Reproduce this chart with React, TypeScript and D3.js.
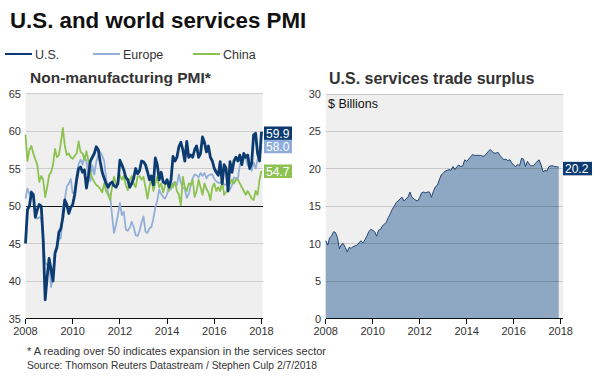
import React from "react";
import * as d3 from "d3";

// ---------- DATA ----------
const startYear = 2008;
const xTickYears = [2008, 2010, 2012, 2014, 2016, 2018];
const pmiTicks = [35, 40, 45, 50, 55, 60, 65];
const surplusTicks = [0, 5, 10, 15, 20, 25, 30];

// Monthly, Jan 2008 .. Jan 2018
const usPMI = [
  45.0, 49.5, 50.0, 51.8, 51.5, 48.5, 49.5, 50.2, 50.0, 45.5, 37.5, 40.5,
  43.0, 41.5, 40.0, 43.7, 44.5, 46.5, 47.0, 48.5, 50.8, 50.2, 49.0, 49.8,
  50.2, 51.5, 53.5, 55.0, 55.2, 54.5, 54.8, 52.4, 54.0, 56.0, 56.5, 57.0,
  57.9, 57.5, 55.9, 54.5, 53.7, 53.0, 52.5, 53.0, 53.2, 52.7, 52.5, 53.0,
  56.1, 55.5, 54.8, 53.8, 53.5, 52.5, 53.0, 53.7, 55.0, 54.3, 54.7, 56.0,
  55.9, 55.5, 54.6, 53.5, 54.0, 52.8, 56.4, 55.5, 53.5, 54.5, 53.2, 53.0,
  53.5, 52.5, 53.5, 56.6, 56.0, 56.5, 57.9, 58.5, 57.5, 56.0, 58.6, 56.5,
  56.8, 56.5, 57.5, 58.0, 56.5, 57.0, 59.2, 58.5, 57.2, 58.0, 56.5, 56.0,
  55.0, 54.5, 54.1, 55.9, 53.0, 55.5, 55.0, 52.0, 55.9, 54.5, 56.0, 56.5,
  56.0, 56.8, 55.5, 57.0, 56.5, 56.8, 55.0, 55.7, 59.5, 59.7, 57.0, 56.0,
  59.9,
];
const europePMI = [
  51.0, 52.3, 51.6, 52.0, 51.4, 48.5, 48.3, 48.5, 48.4, 45.8, 42.5, 42.1,
  42.2, 39.2, 40.9, 43.8, 44.8, 45.6, 45.7, 49.9, 50.9, 52.6, 53.0, 53.6,
  51.7, 51.8, 54.1, 55.6, 56.2, 55.5, 56.7, 55.9, 54.1, 53.3, 55.4, 54.2,
  55.9, 56.8, 57.2, 56.7, 56.0, 53.7, 51.6, 51.5, 48.8, 46.4, 47.5, 48.8,
  50.4, 48.8, 49.2, 46.9, 46.7, 47.1, 47.9, 47.2, 46.1, 46.0, 46.7, 47.8,
  48.6, 46.6, 46.4, 47.0, 47.2, 48.3, 49.8, 50.7, 52.2, 51.6, 51.2, 51.0,
  51.6, 52.6, 52.2, 53.1, 53.2, 52.8, 54.2, 53.1, 52.4, 52.3, 51.1, 51.6,
  52.7, 53.7, 54.2, 54.1, 53.8, 54.4, 54.0, 54.4, 53.7, 54.1, 54.2, 54.2,
  53.6, 53.3, 53.1, 53.1, 53.3, 52.8, 52.9, 52.8, 52.2, 52.8, 53.8, 53.7,
  53.7, 55.5, 56.0, 56.4, 56.3, 55.4, 55.4, 54.7, 55.8, 55.0, 56.2, 56.6,
  58.0,
];
const chinaPMI = [
  59.5, 56.0, 57.5, 58.0, 57.0, 56.2, 55.5, 53.2, 54.0, 53.5, 51.2, 52.5,
  54.1, 54.5, 55.5, 57.6, 56.5, 56.8, 58.5, 60.4, 58.0, 56.8, 57.0, 56.5,
  56.3, 56.7, 57.0, 58.6, 57.2, 57.0, 56.1, 57.3, 56.0, 54.5, 53.7, 53.2,
  52.8, 52.6, 52.3, 51.8, 53.0, 52.0, 51.5, 50.8, 52.5, 53.9, 53.0, 53.2,
  54.1, 53.5, 54.0, 52.8, 52.1, 53.5, 54.0, 53.0, 52.5, 53.9, 54.0, 53.5,
  53.9, 52.5, 51.0, 52.5, 53.9, 52.0, 53.0, 53.9, 52.5, 53.0, 51.8, 52.8,
  53.2, 52.0, 53.0, 52.5, 53.2, 52.0, 51.5, 50.1, 53.9, 52.5, 52.0, 53.0,
  52.8, 53.5, 51.2, 52.0, 53.5, 52.5, 51.5, 53.0, 52.3, 51.8, 50.8, 52.5,
  53.0, 52.0, 52.5, 52.0, 53.2, 51.5, 51.8, 52.5, 53.0, 53.5, 53.0, 53.5,
  53.5, 53.0, 52.5, 52.0, 51.5, 52.0, 51.5, 51.0, 50.8, 52.0, 51.5, 53.5,
  54.7,
];
// Monthly, Jan 2008 .. Dec 2017, $ billions
const tradeSurplus = [
  10.4, 9.8, 10.8, 11.0, 11.6, 11.5, 10.8, 9.3, 9.9, 10.0, 9.5, 8.9,
  9.5, 9.4, 9.6, 9.7, 9.8, 10.1, 10.4, 10.1, 10.5, 11.0, 11.6, 11.9,
  11.8, 11.6, 11.0, 11.8, 11.9, 12.4, 12.6, 12.9, 13.5, 14.0, 14.6, 15.0,
  15.5, 15.7, 16.0, 16.2, 15.7, 16.0, 16.2, 16.9, 16.2, 16.0, 15.8, 15.7,
  16.2, 16.8, 16.9, 16.8, 16.9, 16.9, 16.2, 17.0, 17.6, 17.8, 18.5, 19.2,
  19.4, 19.7, 19.8, 19.9, 19.8, 20.3, 19.9, 20.3, 20.5, 20.3, 20.4, 21.2,
  21.0, 21.3, 21.6, 21.9, 21.8, 21.8, 21.8, 21.8, 21.7, 21.7, 22.0, 22.3,
  22.6, 22.3, 22.1, 22.1, 22.2, 21.8, 21.5, 21.2, 21.3, 21.1, 21.2, 20.8,
  20.5, 20.3, 20.6, 20.4, 21.4, 21.3, 20.3, 21.0, 20.6, 20.4, 20.4, 20.7,
  21.0, 21.2, 20.5, 19.6, 19.8, 19.7, 20.3, 20.4, 20.4, 20.3, 20.3, 20.2,
];

const seriesNames = ["U.S.", "Europe", "China"];
const seriesColors = ["#0b3b70", "#93afd9", "#8cc24f"];
const labelColors = ["#0b3b70", "#8eaddb", "#8dc253"];

const titleText = "U.S. and world services PMI";
const leftTitle = "Non-manufacturing PMI*";
const rightTitle = "U.S. services trade surplus";
const unitText = "$ Billions";
const footnote = "* A reading over 50 indicates expansion in the services sector";
const sourceText = "Source: Thomson Reuters Datastream / Stephen Culp 2/7/2018";

// ---------- HELPERS ----------
const FONT = "'Liberation Sans', Arial, Helvetica, sans-serif";
type Pt = { t: number; v: number };
const toPts = (arr: number[]): Pt[] => arr.map((v, i) => ({ t: startYear + i / 12, v }));

export default function App() {
  // Left chart scales
  const xL = d3.scaleLinear().domain([2008, 2018]).range([25.5, 261.5]);
  const yL = d3.scaleLinear().domain([35, 65]).range([318.5, 93.5]);
  // Right chart scales
  const xR = d3.scaleLinear().domain([2008, 2018]).range([325.7, 560.7]);
  const yR = d3.scaleLinear().domain([0, 30]).range([318.5, 94]);

  const lineL = d3
    .line<Pt>()
    .x((d) => xL(d.t))
    .y((d) => yL(d.v))
    .curve(d3.curveLinear);

  const area = d3
    .area<Pt>()
    .x((d) => xR(d.t))
    .y0(yR(0))
    .y1((d) => yR(d.v));
  const areaLine = d3
    .line<Pt>()
    .x((d) => xR(d.t))
    .y((d) => yR(d.v));

  const allSeries = [usPMI, europePMI, chinaPMI];
  const drawOrder = [1, 2, 0];
  const widths = [2.8, 1.8, 1.8];

  const surplusPts = toPts(tradeSurplus);
  const lastSurplus = tradeSurplus[tradeSurplus.length - 1];

  const plotL = { x0: xL(2008), x1: xL(2018) + 1, y0: yL(65), y1: yL(35) };
  const plotR = { x0: xR(2008), x1: xR(2018) + 2.5, y0: yR(30), y1: yR(0) };

  const legendX = [5, 93, 193];

  return (
    <div style={{ position: "absolute", left: 0, top: 0 }}>
      <svg width={600} height={376} style={{ display: "block", fontFamily: FONT }}>
        <rect x={0} y={0} width={600} height={376} fill="#ffffff" />
        {/* Title */}
        <text x={10} y={28} fontSize={22.3} fontWeight="bold" fill="#111">
          {titleText}
        </text>

        {/* Legend */}
        {seriesNames.map((n, i) => (
          <g key={n}>
            <line x1={legendX[i]} x2={legendX[i] + 27} y1={54} y2={54} stroke={seriesColors[i]} strokeWidth={2} />
            <text x={legendX[i] + 30} y={58.5} fontSize={12.5} fill="#333">
              {n}
            </text>
          </g>
        ))}

        {/* ---------- LEFT CHART ---------- */}
        <text x={30} y={83} fontSize={15.5} fontWeight="bold" fill="#333">
          {leftTitle}
        </text>
        <rect x={plotL.x0} y={plotL.y0} width={plotL.x1 - plotL.x0} height={plotL.y1 - plotL.y0} fill="#efefef" />
        {pmiTicks.map((t) => (
          <g key={"lt" + t}>
            {t !== 35 && t !== 50 && (
              <line x1={plotL.x0} x2={plotL.x1} y1={yL(t)} y2={yL(t)} stroke="#cdcdcd" strokeWidth={1} shapeRendering="crispEdges" />
            )}
            <text x={21} y={yL(t) + 4} fontSize={11} fill="#333" textAnchor="end">
              {t}
            </text>
          </g>
        ))}
        <line x1={plotL.x0} x2={plotL.x1} y1={yL(50)} y2={yL(50)} stroke="#111" strokeWidth={1} shapeRendering="crispEdges" />
        {drawOrder.map((si) => (
          <path
            key={"s" + si}
            d={lineL(toPts(allSeries[si])) || ""}
            fill="none"
            stroke={seriesColors[si]}
            strokeWidth={widths[si]}
            strokeLinejoin="round"
          />
        ))}
        {/* x axis */}
        <line x1={plotL.x0} x2={plotL.x1} y1={yL(35)} y2={yL(35)} stroke="#111" strokeWidth={1} shapeRendering="crispEdges" />
        {xTickYears.map((yv) => (
          <g key={"lx" + yv}>
            <line x1={xL(yv)} x2={xL(yv)} y1={yL(35)} y2={yL(35) + 5} stroke="#111" strokeWidth={1} shapeRendering="crispEdges" />
            <text x={xL(yv)} y={335} fontSize={11} fill="#333" textAnchor="middle">
              {yv}
            </text>
          </g>
        ))}
        {/* value labels */}
        {allSeries.map((arr, i) => {
          const v = arr[arr.length - 1];
          const cy = yL(v) + (i === 0 ? 1.5 : 0.5);
          return (
            <g key={"lab" + i}>
              <rect x={264} y={cy - 6.75} width={28} height={13.5} fill={labelColors[i]} />
              <text x={266} y={cy + 4.5} fontSize={12} fill="#fff">
                {v.toFixed(1)}
              </text>
            </g>
          );
        })}

        {/* ---------- RIGHT CHART ---------- */}
        <text x={329} y={84} fontSize={16} fontWeight="bold" fill="#333">
          {rightTitle}
        </text>
        <rect x={plotR.x0} y={plotR.y0} width={plotR.x1 - plotR.x0} height={plotR.y1 - plotR.y0} fill="#efefef" />
        <path d={area(surplusPts) || ""} fill="#8ea8c4" />
        <path d={areaLine(surplusPts) || ""} fill="none" stroke="#24466f" strokeWidth={1} />
        {surplusTicks.map((t) => (
          <g key={"rt" + t}>
            {t !== 0 && (
              <line x1={plotR.x0} x2={plotR.x1} y1={yR(t)} y2={yR(t)} stroke="#000" strokeOpacity={0.16} strokeWidth={1} shapeRendering="crispEdges" />
            )}
            <text x={321} y={yR(t) + 4} fontSize={11} fill="#333" textAnchor="end">
              {t}
            </text>
          </g>
        ))}
        <text x={328} y={108} fontSize={12.5} fill="#111">
          {unitText}
        </text>
        <line x1={plotR.x0} x2={plotR.x1} y1={yR(0)} y2={yR(0)} stroke="#111" strokeWidth={1} shapeRendering="crispEdges" />
        {xTickYears.map((yv) => (
          <g key={"rx" + yv}>
            <line x1={xR(yv)} x2={xR(yv)} y1={yR(0)} y2={yR(0) + 5} stroke="#111" strokeWidth={1} shapeRendering="crispEdges" />
            <text x={xR(yv)} y={335} fontSize={11} fill="#333" textAnchor="middle">
              {yv}
            </text>
          </g>
        ))}
        <g>
          <rect x={563} y={yR(lastSurplus) - 5.5} width={29} height={13.5} fill="#0b3b70" />
          <text x={565} y={yR(lastSurplus) + 5.5} fontSize={12} fill="#fff">
            {lastSurplus.toFixed(1)}
          </text>
        </g>

        {/* Footnotes */}
        <text x={27} y={355} fontSize={11} fill="#333">
          {footnote}
        </text>
        <text x={27} y={368.5} fontSize={10.6} fill="#333" textLength={290} lengthAdjust="spacingAndGlyphs">
          {sourceText}
        </text>
      </svg>
    </div>
  );
}
